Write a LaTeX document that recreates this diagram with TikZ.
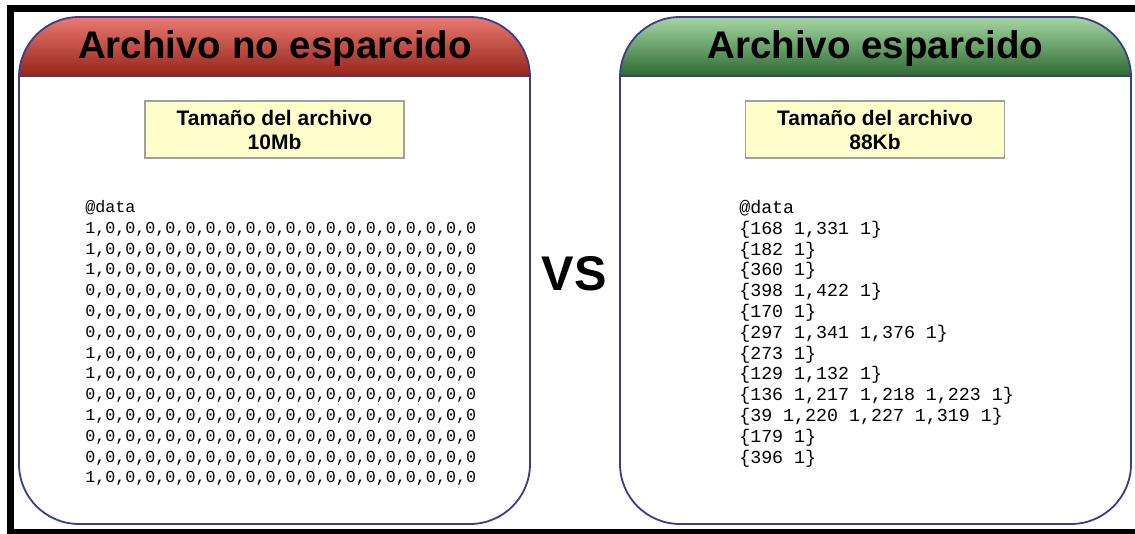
\documentclass[tikz,border=0pt]{standalone}
\usepackage{fontspec}
\setmainfont{Liberation Sans}
\setmonofont{Liberation Mono}
\usepackage{xcolor}
\definecolor{bd}{HTML}{3C3C8A}
\definecolor{rtop}{HTML}{EA7A72}
\definecolor{rbot}{HTML}{952519}
\definecolor{gtop}{HTML}{A6D6A3}
\definecolor{gbot}{HTML}{2E6A32}
\definecolor{yl}{HTML}{FFFFCC}
\definecolor{gr}{HTML}{A0A0A0}

\begin{document}
\begin{tikzpicture}[
      x = 1pt, y = -1pt, % one unit per pixel, y going down
      semithick, % line style
    ]

    \tikzstyle{panel}=[
      draw = bd,
      line width = 1.8pt,
      rounded corners = 60pt
    ]
    \tikzstyle{title}=[
      anchor = base,
      inner sep = 0pt,
      font = \fontsize{38.5}{40}\selectfont\bfseries
    ]
    \tikzstyle{sizebox}=[
      draw = gr,
      fill = yl,
      line width = 1.2pt,
      minimum width = 259pt,
      minimum height = 57pt,
      align = center,
      font = \fontsize{21}{24}\selectfont\bfseries
    ]
    \tikzstyle{data}=[
      anchor = north west,
      inner sep = 0pt,
      align = left
    ]

    \useasboundingbox (0,0) rectangle (1135,534);
    \draw[line width = 7pt] (10.5,8.5) rectangle (1145,532.5); % outer frame

    % left panel
    \begin{scope}
      \clip[rounded corners = 60pt] (19,17) rectangle (530,524);
      \shade[top color = rtop, bottom color = rbot] (19,17) rectangle (530,76);
    \end{scope}
    \draw[bd, line width = 1.8pt] (19,76) -- (530,76);
    \draw[panel] (19,17) rectangle (530,524);

    % right panel
    \begin{scope}
      \clip[rounded corners = 60pt] (620,17) rectangle (1131,524);
      \shade[top color = gtop, bottom color = gbot] (620,17) rectangle (1131,76);
    \end{scope}
    \draw[bd, line width = 1.8pt] (620,76) -- (1131,76);
    \draw[panel] (620,17) rectangle (1131,524);

    \node[title] (nosp) [at={(275,58.5)}] {Archivo no esparcido};
    \node[title] (sp) [at={(875.5,58.5)}] {Archivo esparcido};

    \node[sizebox] (size1) [at={(274.5,129.5)}] {Tamaño del archivo\\10Mb};
    \node[sizebox] (size2) [at={(875,129.5)}] {Tamaño del archivo\\88Kb};

    \node[anchor = base, inner sep = 0pt, font = \fontsize{48.7}{50}\selectfont\bfseries]
      (vs) [at={(574,291)}] {VS};

    \node[data, font = \ttfamily\fontsize{16.7}{20.8}\selectfont] (dense) [at={(85,200)}] {%
      @data\\
      1,0,0,0,0,0,0,0,0,0,0,0,0,0,0,0,0,0,0,0\\
      1,0,0,0,0,0,0,0,0,0,0,0,0,0,0,0,0,0,0,0\\
      1,0,0,0,0,0,0,0,0,0,0,0,0,0,0,0,0,0,0,0\\
      0,0,0,0,0,0,0,0,0,0,0,0,0,0,0,0,0,0,0,0\\
      0,0,0,0,0,0,0,0,0,0,0,0,0,0,0,0,0,0,0,0\\
      0,0,0,0,0,0,0,0,0,0,0,0,0,0,0,0,0,0,0,0\\
      1,0,0,0,0,0,0,0,0,0,0,0,0,0,0,0,0,0,0,0\\
      1,0,0,0,0,0,0,0,0,0,0,0,0,0,0,0,0,0,0,0\\
      0,0,0,0,0,0,0,0,0,0,0,0,0,0,0,0,0,0,0,0\\
      1,0,0,0,0,0,0,0,0,0,0,0,0,0,0,0,0,0,0,0\\
      0,0,0,0,0,0,0,0,0,0,0,0,0,0,0,0,0,0,0,0\\
      0,0,0,0,0,0,0,0,0,0,0,0,0,0,0,0,0,0,0,0\\
      1,0,0,0,0,0,0,0,0,0,0,0,0,0,0,0,0,0,0,0};

    \node[data, font = \ttfamily\fontsize{18.3}{20.8}\selectfont] (sparse) [at={(739,200)}] {%
      @data\\
      \{168 1,331 1\}\\
      \{182 1\}\\
      \{360 1\}\\
      \{398 1,422 1\}\\
      \{170 1\}\\
      \{297 1,341 1,376 1\}\\
      \{273 1\}\\
      \{129 1,132 1\}\\
      \{136 1,217 1,218 1,223 1\}\\
      \{39 1,220 1,227 1,319 1\}\\
      \{179 1\}\\
      \{396 1\}};

  \end{tikzpicture}
\end{document}
